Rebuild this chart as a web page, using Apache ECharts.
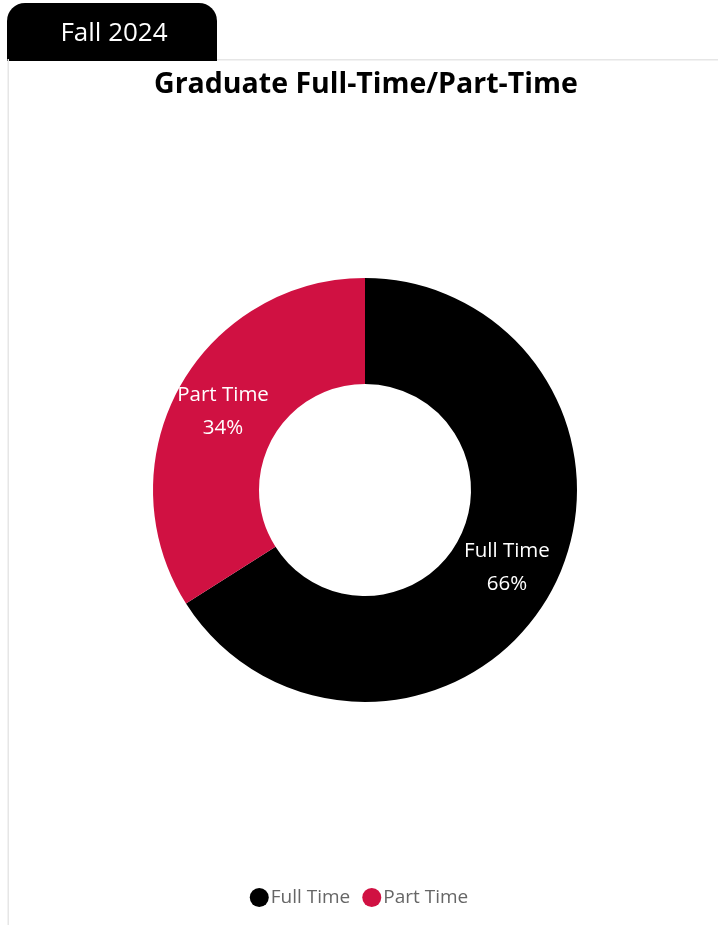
<!DOCTYPE html>
<html>
<head>
<meta charset="utf-8">
<script src="https://cdn.jsdelivr.net/npm/echarts@6/dist/echarts.min.js"></script>
<style>
html,body{margin:0;padding:0;background:#fff;}
#chart{width:718px;height:925px;}
</style>
</head>
<body>
<div id="chart"></div>
<script>
const categories = ["Full Time", "Part Time"];
const values = [66, 34];
const colors = ["#000000", "#D01142"];
const tabLabel = "Fall 2024";
const chartTitle = "Graduate Full-Time/Part-Time";

const FONT = "'Open Sans', 'Noto Sans', sans-serif";
const chart = echarts.init(document.getElementById('chart'));
chart.setOption({
  animation: false,
  backgroundColor: '#ffffff',
  color: colors,
  title: {
    text: chartTitle,
    left: 149, top: 65,
    textStyle: { fontFamily: FONT, fontWeight: 'bold', fontSize: 28.5, color: '#000' }
  },
  legend: {
    data: categories,
    bottom: 13, left: 'center',
    icon: 'circle', itemWidth: 19, itemHeight: 19, itemGap: 12,
    textStyle: { fontFamily: FONT, fontSize: 19, color: '#666', padding: [0,0,0,-3] }
  },
  graphic: [
    { type: 'rect', shape: { x: 7, y: 3, width: 210, height: 58, r: [18,18,0,0] }, style: { fill: '#000' } },
    { type: 'text', x: 114, y: 34, style: { text: tabLabel, fill: '#fff', font: "26px " + FONT, textAlign: 'center', textVerticalAlign: 'middle' } },
    { type: 'rect', shape: { x: 217, y: 59, width: 501, height: 1.5 }, style: { fill: '#e6e6e6' } },
    { type: 'rect', shape: { x: 7.5, y: 59, width: 1.5, height: 866 }, style: { fill: '#e6e6e6' } }
  ],
  series: [{
    type: 'pie',
    center: [365, 490],
    radius: [106, 212],
    startAngle: 90,
    clockwise: true,
    label: {
      show: true, position: 'inside',
      formatter: p => p.name + "\n" + p.value + "%",
      color: '#fff', fontFamily: FONT, fontSize: 20.5, lineHeight: 33
    },
    labelLine: { show: false },
    itemStyle: { borderWidth: 0 },
    emphasis: { disabled: true },
    data: categories.map((c, i) => ({ name: c, value: values[i] }))
  }]
});
</script>
</body>
</html>
